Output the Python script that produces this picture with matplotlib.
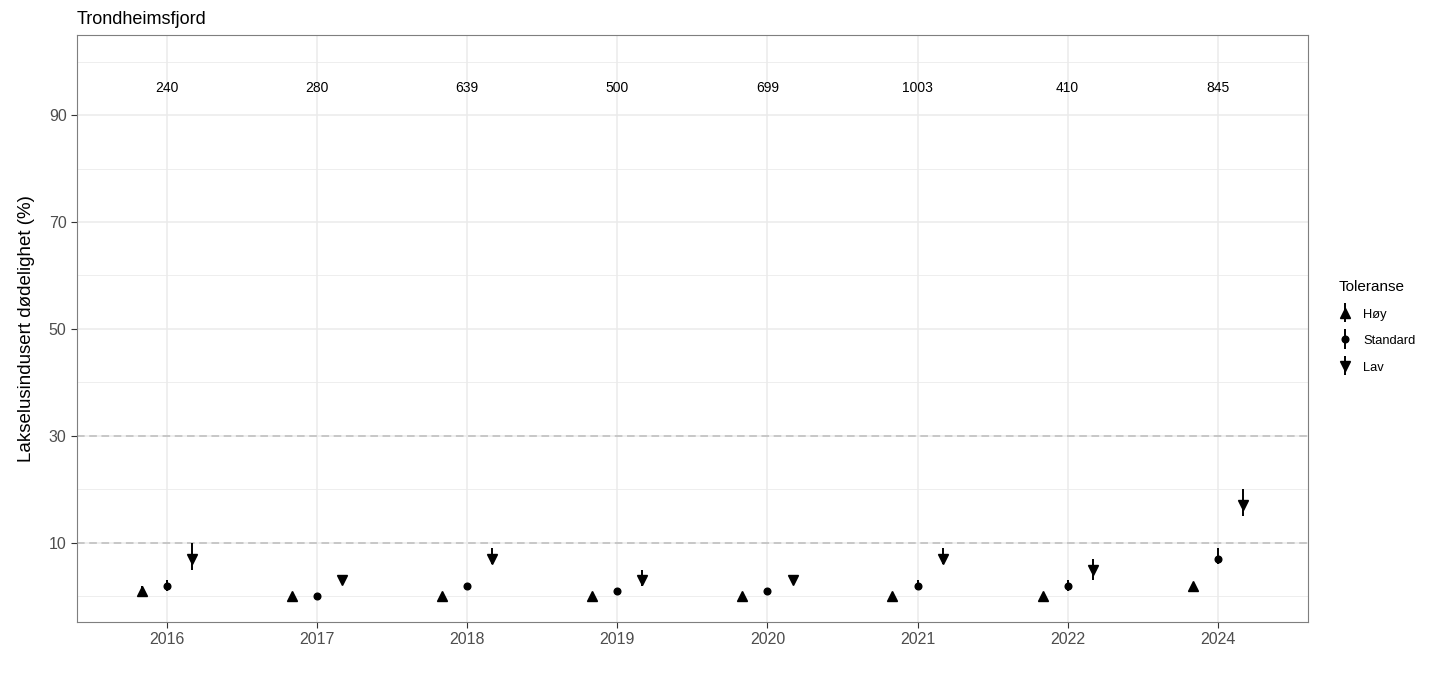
import matplotlib
matplotlib.use('Agg')
from matplotlib import pyplot as plt
from matplotlib.container import ErrorbarContainer
from matplotlib.legend_handler import HandlerErrorbar
import numpy as np

plt.rcParams['font.family'] = ['Liberation Sans', 'DejaVu Sans']

years = ['2016', '2017', '2018', '2019', '2020', '2021', '2022', '2024']
counts = ['240', '280', '639', '500', '699', '1003', '410', '845']

hoy = [1, 0, 0, 0, 0, 0, 0, 2]
hoy_lo = [0, 0, 0, 0, 0, 0, 0, 2]
hoy_hi = [2, 0.3, 0.3, 0.3, 0.3, 0.3, 0.3, 2.3]

std = [2, 0, 2, 1, 1, 2, 2, 7]
std_lo = [1, 0, 1.5, 0.5, 0.5, 1.5, 1, 6]
std_hi = [3, 0.3, 2.5, 1.5, 1.5, 3, 3, 9]

lav = [7, 3, 7, 3, 3, 7, 5, 17]
lav_lo = [5, 2.5, 6, 2, 2.5, 6, 3, 15]
lav_hi = [10, 4, 9, 5, 4, 9, 7, 20]

fig = plt.figure(figsize=(14.38, 6.98), dpi=100)
ax = fig.add_axes([0.0535, 0.109, 0.856, 0.841])

x = np.arange(len(years))
dodge = 0.167

series = [
    ('Høy', hoy, hoy_lo, hoy_hi, '^', 7.5, -dodge),
    ('Standard', std, std_lo, std_hi, 'o', 4.8, 0),
    ('Lav', lav, lav_lo, lav_hi, 'v', 7.5, dodge),
]
handles = []
for name, vals, lo, hi, mk, ms, off in series:
    vals = np.array(vals, dtype=float)
    err = [vals - np.array(lo), np.array(hi) - vals]
    cont = ax.errorbar(x + off, vals, yerr=err, fmt=mk, color='black', ms=ms,
                       elinewidth=1.4, capsize=0, zorder=3, label=name)
    handles.append(cont)

# tolerance lines
for h in [10, 30]:
    ax.axhline(h, color='#bdbdbd', lw=1.1, linestyle=(0, (5, 3)), zorder=1)

for i, c in enumerate(counts):
    ax.text(x[i], 95, c, ha='center', va='center', fontsize=10, color='black')

ax.set_xlim(-0.6, 7.6)
ax.set_ylim(-4.8, 105)
ax.set_xticks(x)
ax.set_xticklabels(years)
ax.set_yticks([10, 30, 50, 70, 90])
ax.set_yticks([0, 20, 40, 60, 80, 100], minor=True)
ax.grid(True, which='major', color='#ebebeb', lw=1.1, zorder=0)
ax.grid(True, which='minor', axis='y', color='#ebebeb', lw=0.6, zorder=0)
ax.set_axisbelow(True)
ax.tick_params(axis='both', which='major', length=4, color='#333333',
               labelcolor='#4d4d4d', labelsize=11.5, width=0.8)
ax.tick_params(axis='both', which='minor', length=0)
for s in ax.spines.values():
    s.set_color('#7f7f7f')
    s.set_linewidth(0.8)

ax.set_ylabel('Lakselusindusert dødelighet (%)', fontsize=13.5, labelpad=10)
ax.set_title('Trondheimsfjord', loc='left', fontsize=13, pad=8)

leg = fig.legend(handles, ['Høy', 'Standard', 'Lav'], title='Toleranse',
                 loc='upper left', bbox_to_anchor=(0.923, 0.615), frameon=False,
                 fontsize=9.3, title_fontsize=11, handlelength=0.9,
                 handletextpad=1.0, labelspacing=1.0, handleheight=1.1,
                 handler_map={ErrorbarContainer: HandlerErrorbar(yerr_size=0.75)})
leg._legend_box.align = 'left'

fig.savefig('out.png', dpi=100)
